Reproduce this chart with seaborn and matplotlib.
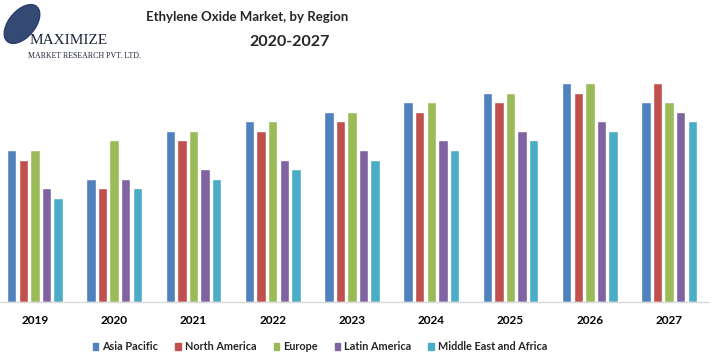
import pandas as pd
import matplotlib
matplotlib.use("Agg")
import matplotlib.pyplot as plt
from matplotlib.patches import Ellipse
import seaborn as sns

# ==========================================
# DATA (arbitrary units)
# ==========================================
years = ["2019", "2020", "2021", "2022", "2023", "2024", "2025", "2026", "2027"]
regions = ["Asia Pacific", "North America", "Europe", "Latin America", "Middle East and Africa"]
colors = ["#4F81BD", "#C0504D", "#9BBB59", "#8064A2", "#4BACC6"]

asia_pacific = [15.2, 12.3, 17.1, 18.1, 19.0, 20.0, 20.9, 21.9, 20.0]
north_america = [14.2, 11.4, 16.2, 17.1, 18.1, 19.0, 20.0, 20.9, 21.9]
europe = [15.2, 16.2, 17.1, 18.1, 19.0, 20.0, 20.9, 21.9, 20.0]
latin_america = [11.4, 12.3, 13.3, 14.2, 15.2, 16.2, 17.1, 18.1, 19.0]
mea = [10.4, 11.4, 12.3, 13.3, 14.2, 15.2, 16.2, 17.1, 18.1]

series = [asia_pacific, north_america, europe, latin_america, mea]
rows = []
for reg, vals in zip(regions, series):
    for yr, v in zip(years, vals):
        rows.append({"Year": yr, "Region": reg, "Value": v})
df = pd.DataFrame(rows)

# ==========================================
# PLOT
# ==========================================
sns.set_theme(style="white")
plt.rcParams["font.family"] = ["Lato", "DejaVu Sans"]

fig = plt.figure(figsize=(7.21, 3.62), dpi=100)
ax = fig.add_axes([0.0, 60 / 362, 708 / 721, 232 / 362])

sns.barplot(data=df, x="Year", y="Value", hue="Region", hue_order=regions,
            palette=colors, width=0.73, gap=0.18, saturation=1, ax=ax,
            legend=False)

ax.set_xlim(-0.44, 8.49)
ax.set_ylim(0, 23.2)
ax.set_xlabel("")
ax.set_ylabel("")
ax.set_yticks([])
for side in ["top", "right", "left"]:
    ax.spines[side].set_visible(False)
ax.spines["bottom"].set_color("#d9d9d9")
ax.spines["bottom"].set_linewidth(1)
ax.tick_params(axis="x", length=0, pad=9)
for lbl in ax.get_xticklabels():
    lbl.set_fontweight("bold")
    lbl.set_fontsize(8.5)
    lbl.set_color("black")

# legend
handles = [plt.Rectangle((0, 0), 1, 1, color=c) for c in colors]
leg = fig.legend(handles, regions, loc="center", ncol=5,
                 bbox_to_anchor=(320 / 721, 1 - 347 / 362), frameon=False,
                 handlelength=0.5, handleheight=0.6, handletextpad=0.35,
                 columnspacing=1.6, prop={"size": 7.8, "weight": "bold"})

# title (two lines, as in the reference)
fig.text(247 / 721, 1 - 17 / 362, "Ethylene Oxide Market, by Region",
         ha="center", va="center", fontsize=9.5, fontweight="bold")
fig.text(290 / 721, 1 - 42 / 362, "2020-2027",
         ha="center", va="center", fontsize=11.5, fontweight="bold")

# logo
globe = Ellipse((22 / 721, 1 - 24 / 362), 30 / 721, 40 / 362, angle=-15,
                transform=fig.transFigure, color="#1f3566", alpha=0.9)
fig.patches.append(globe)
fig.text(30 / 721, 1 - 40 / 362, "MAXIMIZE", ha="left", va="center",
         fontsize=11, family="Liberation Serif", color="#1b2238")
fig.text(28 / 721, 1 - 56 / 362, "MARKET RESEARCH PVT. LTD.", ha="left",
         va="center", fontsize=5.7, family="Liberation Serif", color="#1b2238")

fig.savefig("out.png", dpi=100)
